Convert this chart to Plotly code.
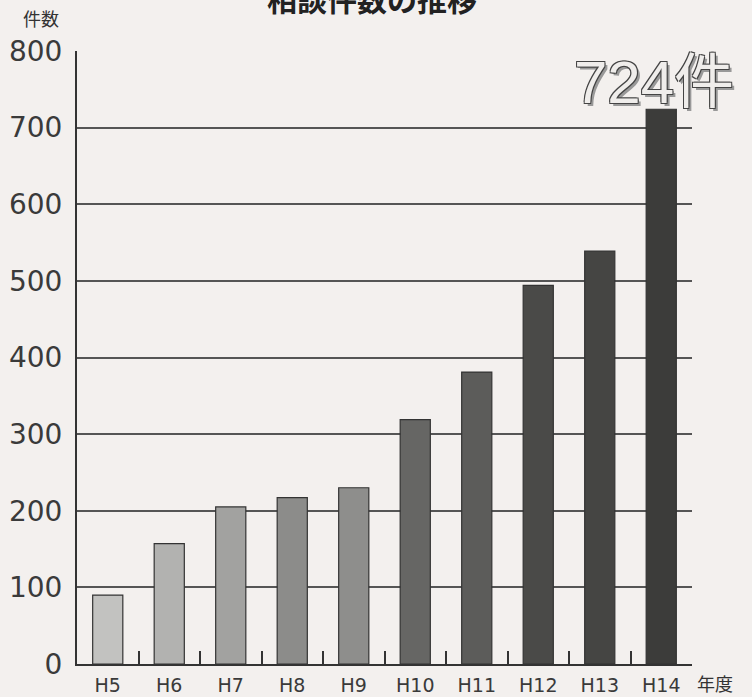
import plotly.graph_objects as go

years = ["H5", "H6", "H7", "H8", "H9", "H10", "H11", "H12", "H13", "H14"]
counts = [90, 157, 205, 217, 230, 319, 381, 494, 539, 724]
bar_colors = ["#c2c2c0", "#b2b2b0", "#a2a2a0", "#8c8c8a", "#8e8e8c",
              "#666664", "#5c5c5a", "#4a4a48", "#454543", "#3c3c3a"]
y_ticks = [0, 100, 200, 300, 400, 500, 600, 700, 800]

bg = "#f3f0ee"
font_family = "DejaVu Sans, Noto Sans CJK JP"

fig = go.Figure()
fig.add_trace(go.Bar(
    x=years, y=counts,
    marker=dict(color=bar_colors, line=dict(color="#333333", width=1.2)),
    width=0.49,
    hoverinfo="x+y",
))

fig.update_layout(
    width=752, height=697,
    paper_bgcolor=bg, plot_bgcolor=bg,
    margin=dict(l=77, r=60, t=51, b=33),
    showlegend=False,
    font=dict(family=font_family, color="#333333"),
    xaxis=dict(
        range=[-0.5, 9.5], showgrid=False,
        showline=True, linecolor="#333333", linewidth=2,
        ticks="inside", tickson="boundaries", ticklen=13, tickwidth=2, tickcolor="#333333",
        tickfont=dict(size=19, color="#3a3a3a"),
        ticklabelstandoff=3,
        automargin=False, fixedrange=True,
    ),
    yaxis=dict(
        range=[0, 800], tickvals=y_ticks,
        showgrid=True, gridcolor="#555555", gridwidth=1.5,
        showline=True, linecolor="#333333", linewidth=2,
        ticks="", ticklabelstandoff=7,
        tickfont=dict(size=28, color="#3a3a3a"),
        zeroline=False, automargin=False, fixedrange=True,
    ),
    annotations=[
        dict(text="<b>相談件数の推移</b>", xref="paper", yref="paper",
             x=0.48, y=1, yshift=53, xanchor="center", yanchor="middle",
             showarrow=False, font=dict(size=30, color="#222222", family="Noto Sans CJK JP")),
        dict(text="件数", xref="paper", yref="paper", x=0, xshift=-36, y=1, yshift=33,
             xanchor="center", yanchor="middle", showarrow=False,
             font=dict(size=18, color="#333333", family="Noto Sans CJK JP")),
        dict(text="年度", xref="paper", yref="paper", x=1, xshift=23, y=0, yshift=-19,
             xanchor="center", yanchor="middle", showarrow=False,
             font=dict(size=18, color="#333333", family="Noto Sans CJK JP")),
        dict(text="724件", xref="paper", yref="paper", x=1, xshift=44, y=1, yshift=-31,
             xanchor="right", yanchor="middle", showarrow=False,
             font=dict(size=60, color="#efedeb", family="Liberation Sans, Noto Sans CJK JP",
                       shadow="-1px -1px 0 #444, 1px -1px 0 #444, -1px 1px 0 #444, 1px 1px 0 #444, 3px 3px 0 #999")),
    ],
)

fig.write_html("out.html", config={"displayModeBar": False},
               post_script="document.body.style.margin='0';document.body.style.overflow='hidden';")
